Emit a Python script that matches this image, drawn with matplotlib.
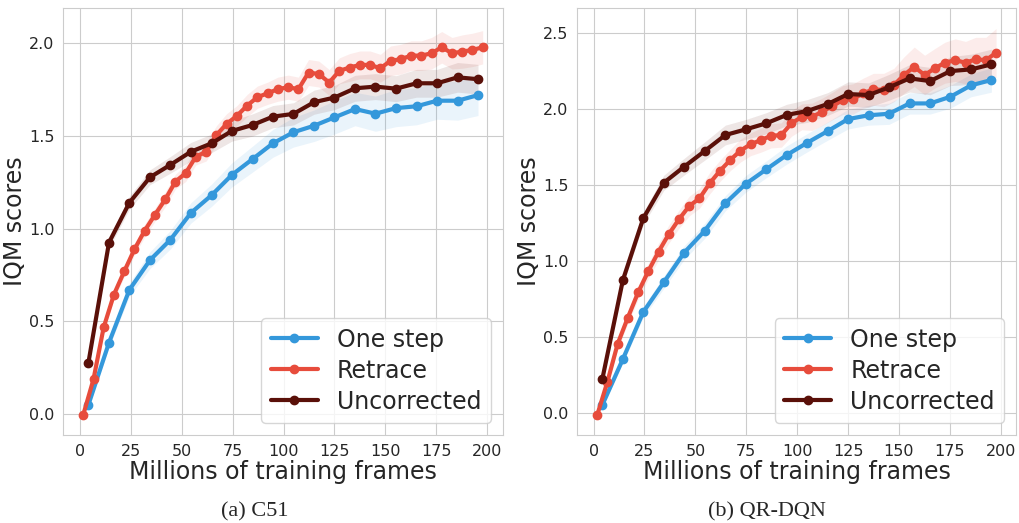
import matplotlib
matplotlib.use("Agg")
import matplotlib.pyplot as plt
import seaborn as sns

# x positions (millions of frames)
x_coarse = [4.3, 14.4, 24.4, 34.5, 44.5, 54.6, 64.7, 74.7, 84.8, 94.8,
            104.9, 115.0, 125.0, 135.1, 145.1, 155.2, 165.3, 175.3, 185.4, 195.4]
x_fine = [1.8, 6.8, 11.8, 16.8, 21.9, 26.9, 31.9, 36.9, 42.0, 47.0,
          52.0, 57.0, 62.1, 67.1, 72.1, 77.1, 82.2, 87.2, 92.2, 97.2,
          102.3, 107.3, 112.3, 117.3, 122.4, 127.4, 132.4, 137.4, 142.5, 147.5,
          152.5, 157.5, 162.6, 167.6, 172.6, 177.6, 182.7, 187.7, 192.7, 197.7]

# (a) C51
c51_onestep = [0.05, 0.385, 0.67, 0.83, 0.94, 1.085, 1.18, 1.29, 1.375, 1.46,
               1.52, 1.555, 1.60, 1.645, 1.62, 1.65, 1.66, 1.69, 1.69, 1.72]
c51_uncorr = [0.277, 0.925, 1.14, 1.277, 1.344, 1.415, 1.46, 1.527, 1.559, 1.604,
              1.619, 1.682, 1.707, 1.757, 1.766, 1.755, 1.784, 1.784, 1.816, 1.806]
c51_retrace = [-0.003, 0.188, 0.468, 0.644, 0.77, 0.889, 0.989, 1.074, 1.158, 1.254,
               1.299, 1.388, 1.415, 1.505, 1.565, 1.608, 1.664, 1.709, 1.73, 1.752,
               1.763, 1.752, 1.842, 1.834, 1.788, 1.851, 1.869, 1.883, 1.883, 1.865,
               1.905, 1.914, 1.933, 1.933, 1.946, 1.978, 1.946, 1.955, 1.964, 1.978]
c51_onestep_hw = [0.015, 0.025, 0.035, 0.045, 0.05, 0.055, 0.06, 0.065, 0.07, 0.075,
                  0.08, 0.085, 0.09, 0.09, 0.095, 0.10, 0.10, 0.10, 0.105, 0.11]
c51_uncorr_hw = [0.02, 0.03, 0.035, 0.04, 0.045, 0.05, 0.05, 0.055, 0.06, 0.06,
                 0.06, 0.065, 0.065, 0.07, 0.07, 0.07, 0.075, 0.075, 0.08, 0.08]
c51_retrace_hw = [0.01, 0.015, 0.02, 0.025, 0.03, 0.03, 0.035, 0.035, 0.04, 0.04,
                  0.045, 0.045, 0.05, 0.05, 0.055, 0.055, 0.06, 0.06, 0.06, 0.065,
                  0.065, 0.065, 0.07, 0.07, 0.07, 0.07, 0.075, 0.075, 0.075, 0.075,
                  0.08, 0.08, 0.08, 0.08, 0.085, 0.085, 0.085, 0.09, 0.09, 0.09]

# (b) QR-DQN
qr_onestep = [0.055, 0.357, 0.666, 0.862, 1.057, 1.201, 1.382, 1.509, 1.605, 1.699,
              1.780, 1.857, 1.936, 1.961, 1.971, 2.039, 2.039, 2.083, 2.158, 2.193]
qr_uncorr = [0.226, 0.877, 1.283, 1.517, 1.623, 1.726, 1.831, 1.868, 1.908, 1.963,
             1.989, 2.035, 2.101, 2.094, 2.145, 2.204, 2.186, 2.252, 2.263, 2.296]
qr_retrace = [-0.011, 0.208, 0.456, 0.629, 0.796, 0.936, 1.063, 1.178, 1.278, 1.364,
              1.414, 1.513, 1.596, 1.666, 1.728, 1.770, 1.798, 1.826, 1.831, 1.908,
              1.951, 1.951, 1.984, 2.022, 2.061, 2.068, 2.105, 2.132, 2.127, 2.160,
              2.226, 2.280, 2.226, 2.270, 2.307, 2.324, 2.307, 2.329, 2.324, 2.372]
qr_onestep_hw = [0.015, 0.025, 0.035, 0.04, 0.045, 0.05, 0.05, 0.055, 0.055, 0.06,
                 0.06, 0.06, 0.065, 0.065, 0.07, 0.07, 0.07, 0.075, 0.075, 0.08]
qr_uncorr_hw = [0.02, 0.03, 0.04, 0.05, 0.055, 0.06, 0.065, 0.065, 0.07, 0.07,
                0.075, 0.075, 0.08, 0.08, 0.085, 0.09, 0.09, 0.095, 0.10, 0.10]
qr_retrace_hw = [0.01, 0.02, 0.03, 0.04, 0.045, 0.05, 0.055, 0.06, 0.06, 0.065,
                 0.065, 0.07, 0.07, 0.07, 0.075, 0.075, 0.08, 0.08, 0.08, 0.085,
                 0.085, 0.09, 0.09, 0.09, 0.095, 0.10, 0.10, 0.105, 0.11, 0.11,
                 0.12, 0.13, 0.13, 0.13, 0.135, 0.14, 0.14, 0.145, 0.15, 0.16]

labels = ["One step", "Retrace", "Uncorrected"]
colors = ["#3498db", "#e74c3c", "#5a1009"]
captions = ["(a) C51", "(b) QR-DQN"]

sns.set_style("whitegrid")
plt.rcParams['font.family'] = ['DejaVu Sans']

fig = plt.figure(figsize=(10.2, 5.23), dpi=100)
ax1 = fig.add_axes([0.0621, 0.1683, 0.4307, 0.8164])
ax2 = fig.add_axes([0.5660, 0.1683, 0.4301, 0.8164])


def draw_panel(ax, series, ylim, yticks):
    for (x, y, hw), lab, col in zip(series, labels, colors):
        lo = [v - h for v, h in zip(y, hw)]
        hi = [v + h for v, h in zip(y, hw)]
        ax.fill_between(x, lo, hi, color=col, alpha=0.1, linewidth=0)
        ax.plot(x, y, color=col, linewidth=3, marker='o', markersize=6, label=lab)
    ax.set_xlim(-8, 207.5)
    ax.set_ylim(*ylim)
    ax.set_xticks(range(0, 201, 25))
    ax.set_yticks(yticks)
    ax.tick_params(labelsize=11.5, colors='#262626', pad=3)
    ax.set_xlabel('Millions of training frames', fontsize=17, labelpad=1,
                  color='#262626')
    ax.set_ylabel('IQM scores', fontsize=17, labelpad=1, color='#262626')
    leg = ax.legend(loc='lower right', fontsize=17, handlelength=2.0,
                    borderpad=0.4, labelspacing=0.3)
    for t in leg.get_texts():
        t.set_color('#262626')


draw_panel(ax1,
           [(x_coarse, c51_onestep, c51_onestep_hw),
            (x_fine, c51_retrace, c51_retrace_hw),
            (x_coarse, c51_uncorr, c51_uncorr_hw)],
           (-0.113, 2.19), [0.0, 0.5, 1.0, 1.5, 2.0])
draw_panel(ax2,
           [(x_coarse, qr_onestep, qr_onestep_hw),
            (x_fine, qr_retrace, qr_retrace_hw),
            (x_coarse, qr_uncorr, qr_uncorr_hw)],
           (-0.143, 2.667), [0.0, 0.5, 1.0, 1.5, 2.0, 2.5])

fig.text(255 / 1020, 1 - 512 / 523, captions[0], ha='center', va='center',
         family='Liberation Serif', fontsize=16)
fig.text(767 / 1020, 1 - 512 / 523, captions[1], ha='center', va='center',
         family='Liberation Serif', fontsize=16)

fig.savefig('out.png', dpi=100)
